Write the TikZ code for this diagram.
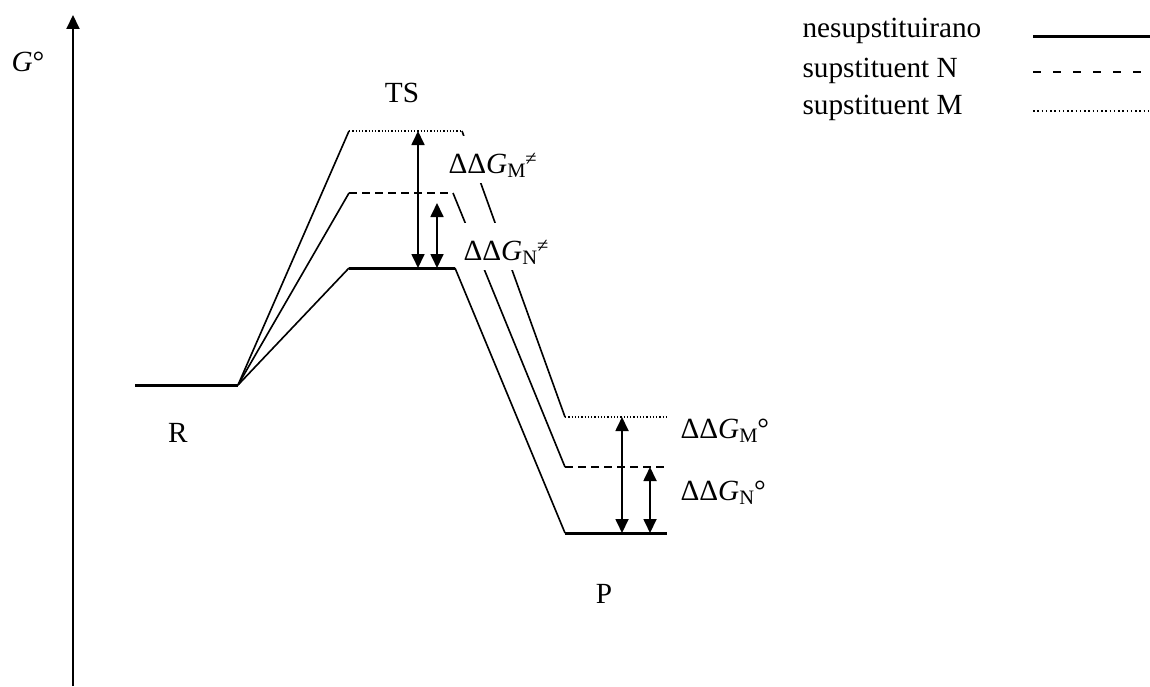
\documentclass[tikz,border=0pt]{standalone}
\usepackage{fontspec}
\setmainfont{Liberation Serif}
\usetikzlibrary{arrows.meta}
\newcommand{\subsz}{\fontsize{8.2}{9}\selectfont}
\newcommand{\ddG}[2]{ΔΔ\textit{G}\raisebox{-0.35ex}{\subsz #1}#2}
\newcommand{\neqsup}{\raisebox{0.55ex}{\subsz ≠}}
\begin{document}
\begin{tikzpicture}[x=0.4pt,y=-0.4pt,
  font=\fontsize{11.7}{14}\selectfont,
  tip/.tip={Triangle[width=5.2pt,length=5.6pt]},
  axis/.style={line width=0.8pt,-tip},
  solidlvl/.style={line width=1.2pt},
  link/.style={line width=0.65pt},
  dashlvl/.style={line width=0.65pt, dash pattern=on 3.2pt off 2pt},
  dotlvl/.style={line width=0.55pt, dash pattern=on 0.5pt off 0.8pt},
  legdash/.style={line width=0.65pt, dash pattern=on 3.2pt off 4.8pt},
  legdot/.style={line width=0.55pt, dash pattern=on 0.6pt off 1.1pt},
  dg/.style={line width=0.7pt, tip-tip},
  lbl/.style={anchor=base, inner sep=0pt},
  leg/.style={anchor=base west, inner sep=0pt},
  gaplbl/.style={fill=white, inner xsep=0pt, inner ysep=0pt, text height=14.8pt, text depth=3.8pt, anchor=base west}]
\useasboundingbox (0,0) rectangle (1150,686);
% axis
\coordinate (ax0) at (73,686);
\coordinate (ax1) at (73,15);
\draw[axis] (ax0) -- (ax1);
\node[leg] (gaxis) at (11,72) {\textit{G}°};
% levels
\coordinate (r1) at (135,385); \coordinate (r2) at (238,385);
\coordinate (s1) at (349,268); \coordinate (s2) at (455,268);
\coordinate (n1) at (349,193); \coordinate (n2) at (453,193);
\coordinate (m1) at (349,131); \coordinate (m2) at (462,131);
\coordinate (ps1) at (565,533); \coordinate (ps2) at (667,533);
\coordinate (pn1) at (565,467); \coordinate (pn2) at (667,467);
\coordinate (pm1) at (565,417); \coordinate (pm2) at (667,417);
\draw[solidlvl] (r1) -- (r2);
\draw[solidlvl] (s1) -- (s2);
\draw[dashlvl] (n1) -- (n2);
\draw[dotlvl] (m1) -- (m2);
\draw[solidlvl] (ps1) -- (ps2);
\draw[dashlvl] (pn1) -- (pn2);
\draw[dotlvl] (pm1) -- (pm2);
% connectors
\draw[link] (r2) -- (s1);
\draw[link] (r2) -- (n1);
\draw[link] (r2) -- (m1);
\draw[link] (s2) -- (ps1);
\draw[link] (n2) -- (pn1);
\draw[link] (m2) -- (pm1);
% difference arrows
\coordinate (a1t) at (418,131); \coordinate (a1b) at (418,268);
\coordinate (a2t) at (437,203); \coordinate (a2b) at (437,268);
\coordinate (b1t) at (622,417); \coordinate (b1b) at (622,533);
\coordinate (b2t) at (650,467); \coordinate (b2b) at (650,533);
\draw[dg] (a1t) -- (a1b);
\draw[dg] (a2t) -- (a2b);
\draw[dg] (b1t) -- (b1b);
\draw[dg] (b2t) -- (b2b);
% labels
\node[lbl] (ts) at (402,103) {TS};
\node[lbl] (rl) at (178,442) {R};
\node[lbl] (pl) at (604,603) {P};
\node[gaplbl] (dgm) at (448,173) {\ddG{M}{\neqsup}};
\node[gaplbl] (dgn) at (463,260) {\ddG{N}{\neqsup}};
\node[leg] (dgmo) at (680,438) {\ddG{M}{°}};
\node[leg] (dgno) at (680,500) {\ddG{N}{°}};
% legend
\node[leg] (l1) at (802,38) {nesupstituirano};
\node[leg] (l2) at (802,78) {supstituent N};
\node[leg] (l3) at (802,115) {supstituent M};
\coordinate (k1a) at (1033,37); \coordinate (k1b) at (1150,37);
\coordinate (k2a) at (1033,72); \coordinate (k2b) at (1150,72);
\coordinate (k3a) at (1033,111); \coordinate (k3b) at (1150,111);
\draw[solidlvl] (k1a) -- (k1b);
\draw[legdash] (k2a) -- (k2b);
\draw[legdot] (k3a) -- (k3b);
\end{tikzpicture}
\end{document}
